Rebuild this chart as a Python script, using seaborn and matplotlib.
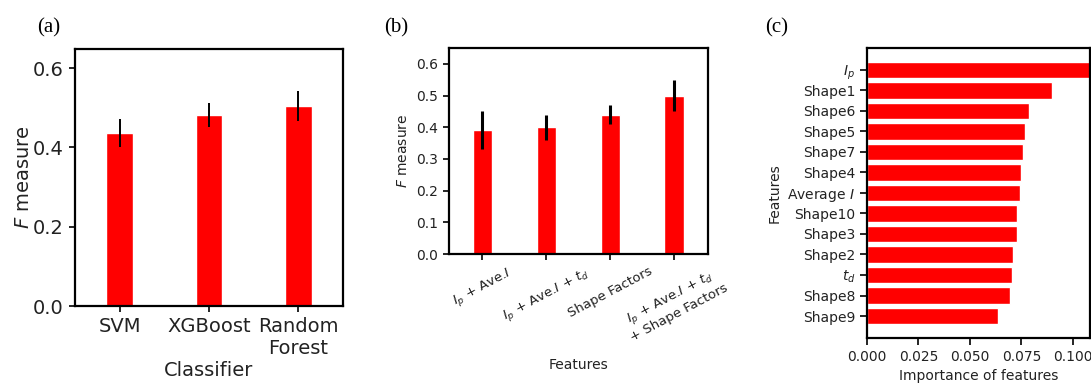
import matplotlib
matplotlib.use("Agg")
import matplotlib.pyplot as plt
import seaborn as sns
import pandas as pd

# ---- data ----
classifiers = ["SVM", "XGBoost", "Random\nForest"]
clf_f = [0.437, 0.482, 0.504]
clf_err = [0.035, 0.030, 0.037]

feature_sets = [r"$I_p$ + Ave.$I$", r"$I_p$ + Ave.$I$ + $t_d$", "Shape Factors",
                "$I_p$ + Ave.$I$ + $t_d$\n+ Shape Factors"]
set_f = [0.39, 0.40, 0.44, 0.50]
set_err = [0.06, 0.04, 0.03, 0.05]

features = [r"$I_p$", "Shape1", "Shape6", "Shape5", "Shape7", "Shape4", r"Average $I$",
            "Shape10", "Shape3", "Shape2", r"$t_d$", "Shape8", "Shape9"]
importance = [0.1083, 0.0897, 0.0788, 0.0767, 0.0759, 0.0746, 0.0743,
              0.0731, 0.0728, 0.0710, 0.0704, 0.0697, 0.0639]

sns.set_style("ticks")
plt.rcParams["font.family"] = ["DejaVu Sans"]
plt.rcParams["mathtext.fontset"] = "dejavusans"
plt.rcParams["axes.edgecolor"] = "black"
plt.rcParams["axes.linewidth"] = 1.6
plt.rcParams["xtick.color"] = "black"
plt.rcParams["ytick.color"] = "black"
plt.rcParams["text.color"] = "#222222"
plt.rcParams["axes.labelcolor"] = "#222222"
plt.rcParams["xtick.labelcolor"] = "#222222"
plt.rcParams["ytick.labelcolor"] = "#222222"

fig = plt.figure(figsize=(10.91, 3.83), dpi=100)
ax1 = fig.add_axes([0.0687, 0.201, 0.2457, 0.671])
ax2 = fig.add_axes([0.4115, 0.3368, 0.2374, 0.5379])
ax3 = fig.add_axes([0.7947, 0.1175, 0.2048, 0.757])

# (a)
dfa = pd.DataFrame({"Classifier": classifiers, "F": clf_f})
sns.barplot(data=dfa, x="Classifier", y="F", color="#ff0000", saturation=1,
            width=0.3, ax=ax1)
ax1.errorbar(range(len(classifiers)), clf_f, yerr=clf_err, fmt="none",
             ecolor="black", elinewidth=1.4, capsize=0)
ax1.set_xlim(-0.5, 2.5)
ax1.set_ylim(0, 0.648)
ax1.set_yticks([0.0, 0.2, 0.4, 0.6])
ax1.tick_params(labelsize=14, length=4.5, width=1.2)
ax1.set_xlabel("Classifier", fontsize=14, labelpad=2)
ax1.set_ylabel(r"$F$ measure", fontsize=14, labelpad=0)
for s in ax1.spines.values():
    s.set_visible(True)

# (b)
dfb = pd.DataFrame({"Features": feature_sets, "F": set_f})
sns.barplot(data=dfb, x="Features", y="F", color="#ff0000", saturation=1,
            width=0.3, ax=ax2)
ax2.errorbar(range(len(feature_sets)), set_f, yerr=set_err, fmt="none",
             ecolor="black", elinewidth=2.2, capsize=0)
ax2.set_xlim(-0.52, 3.53)
ax2.set_ylim(0, 0.65)
ax2.set_yticks([0.0, 0.1, 0.2, 0.3, 0.4, 0.5, 0.6])
ax2.tick_params(labelsize=10, length=4.5, width=1.2)
ax2.tick_params(axis="x", labelsize=9.5, labelrotation=28)
ax2.set_xlabel("Features", fontsize=10, labelpad=10)
ax2.set_ylabel(r"$F$ measure", fontsize=10)
for s in ax2.spines.values():
    s.set_visible(True)

# (c)
dfc = pd.DataFrame({"Feature": features, "Importance": importance})
sns.barplot(data=dfc, x="Importance", y="Feature", orient="h", color="#ff0000",
            saturation=1, width=0.8, ax=ax3)
ax3.set_xlim(0, 0.1086)
ax3.set_ylim(13.07, -1.06)
ax3.set_xticks([0.0, 0.025, 0.05, 0.075, 0.1])
ax3.set_xticklabels(["0.000", "0.025", "0.050", "0.075", "0.100"])
ax3.tick_params(labelsize=10, length=5, width=1.2)
ax3.set_xlabel("Importance of features", fontsize=10)
ax3.set_ylabel("Features", fontsize=10)
for s in ax3.spines.values():
    s.set_visible(True)

for txt, x in [("(a)", 0.0449), ("(b)", 0.363), ("(c)", 0.712)]:
    fig.text(x, 0.927, txt, family="Liberation Serif", fontsize=15,
             ha="center", va="center", color="black")

fig.savefig("out.png", dpi=100)
